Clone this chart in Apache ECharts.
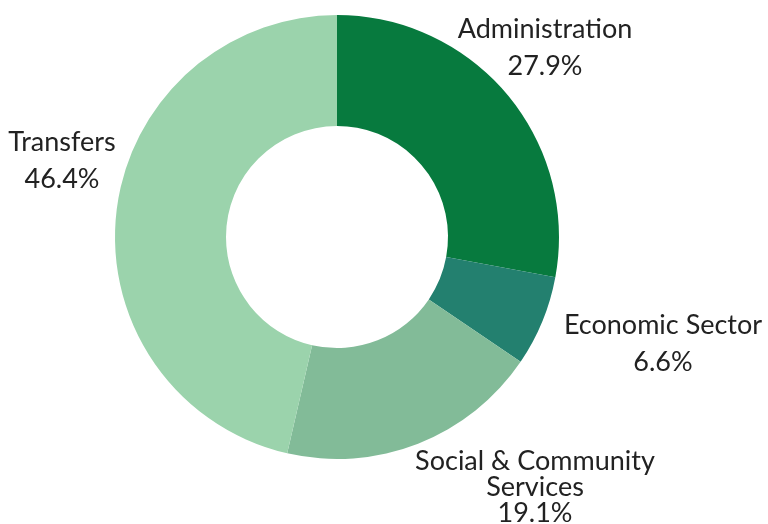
<!DOCTYPE html>
<html><head><meta charset="utf-8">
<script src="https://cdn.jsdelivr.net/npm/echarts@6/dist/echarts.min.js"></script>
<style>html,body{margin:0;padding:0;background:#fff}#c{width:768px;height:524px}</style>
</head><body><div id="c"></div>
<script>
const categories = ['Administration', 'Economic Sector', 'Social & Community\nServices', 'Transfers'];
const values = [27.9, 6.6, 19.1, 46.4];
const colors = ['#077a3e', '#23806f', '#82bb98', '#9bd3ac'];
const labelCenters = [[545, 48], [663, 344], [535, 487], [62, 161]];
const lineHeights = [37, 37, 26, 37];

const chart = echarts.init(document.getElementById('c'), null, {renderer: 'canvas'});
chart.setOption({
  animation: false,
  series: [{
    type: 'pie',
    center: [337, 237],
    radius: [111, 222],
    startAngle: 90,
    clockwise: true,
    label: {
      show: true,
      position: 'outside',
      formatter: p => p.name + '\n' + p.value.toFixed(1) + '%',
      fontFamily: 'Lato',
      fontSize: 27,
      color: '#222',
      align: 'center',
      overflow: 'none',
      width: 300
    },
    labelLine: {show: false},
    labelLayout: p => {
      const c = labelCenters[p.dataIndex];
      return {x: c[0], y: c[1], align: 'center', verticalAlign: 'middle'};
    },
    data: categories.map((n, i) => ({
      name: n, value: values[i],
      itemStyle: {color: colors[i]},
      label: {lineHeight: lineHeights[i]}
    }))
  }]
});
</script></body></html>
